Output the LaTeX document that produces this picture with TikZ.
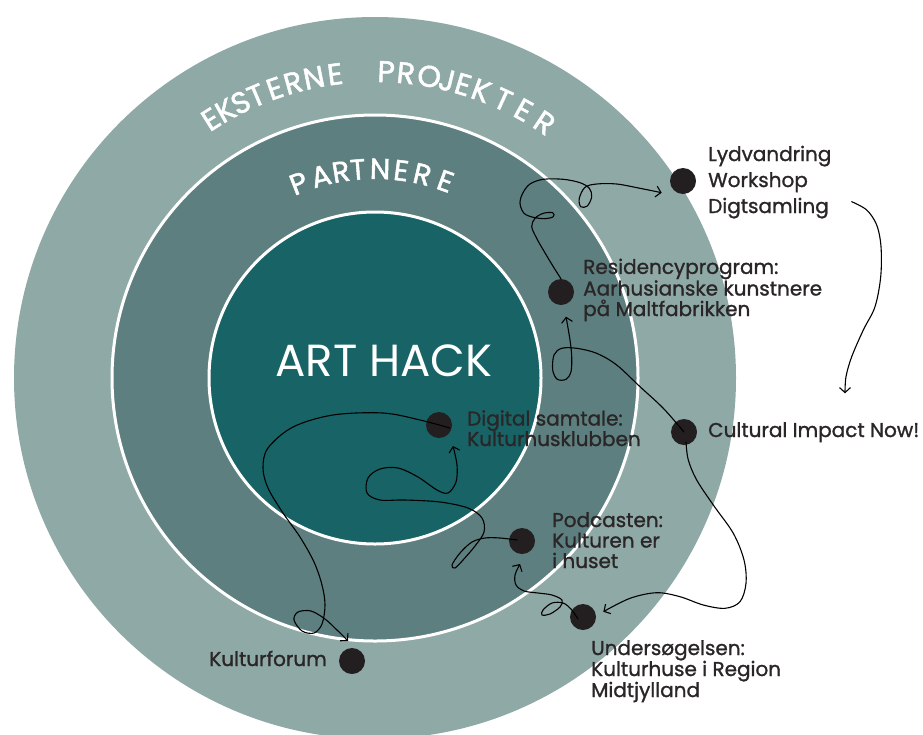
\documentclass[tikz,border=0pt]{standalone}
\usepackage{fontspec}
\setmainfont{Poppins}
\newfontfamily\lblfont{Poppins}[FakeBold=1.2]
\newfontfamily\ttlfont{Poppins}[FakeBold=1.6]
\usetikzlibrary{arrows.meta,calc}
\definecolor{outerc}{HTML}{8FAAA6}
\definecolor{midc}{HTML}{5E7F80}
\definecolor{innerc}{HTML}{176366}
\definecolor{dotc}{HTML}{231F20}
\definecolor{txtc}{HTML}{2A2627}
\tikzset{
  dotnode/.style={circle, fill=dotc, minimum size=26pt, inner sep=0pt},
  lbl/.style={anchor=base west, align=left, text=txtc, font=\lblfont\fontsize{20}{20.5}\selectfont, inner sep=0pt},
  squig/.style={line width=1.1pt, draw=black, line cap=round, line join=round,
    -{Straight Barb[length=5pt,width=11pt,line width=1.1pt]}},
  ringline/.style={draw=white, line width=3pt},
  ttlA/.style={text=white, inner sep=0pt, anchor=base, font=\ttlfont\fontsize{30}{30}\selectfont},
  ttlB/.style={text=white, inner sep=0pt, anchor=base, font=\ttlfont\fontsize{29}{29}\selectfont},
}
\begin{document}
\begin{tikzpicture}[x=1pt,y=-1pt]
\useasboundingbox (0,0) rectangle (923,734);
\clip (0,0) rectangle (923,734);
\coordinate (c) at (375,378);
% rings
\fill[outerc] (c) circle[radius=361pt];
\filldraw[fill=midc, ringline] (c) circle[radius=263pt];
\filldraw[fill=innerc, ringline] (c) circle[radius=166pt];
% curved titles
\foreach \ch/\a [count=\i] in {E/-32.4,K/-29.2,S/-26.0,T/-22.8,E/-19.1,R/-15.5,N/-11.5,E/-7.5,P/2.1,R/5.8,O/10.2,J/13.6,E/16.7,K/20.3,T/24.7,E/29.0,R/33.6}
  \node[ttlA, rotate=-\a] (te\i) at ($(c)+({296*sin(\a)},{-296*cos(\a)})$) {\ch};
\foreach \ch/\a [count=\i] in {P/-21.4,A/-15.0,R/-9.4,T/-4.7,N/1.4,E/7.2,R/13.1,E/19.7}
  \node[ttlB, rotate=-\a] (tp\i) at ($(c)+({199*sin(\a)},{-199*cos(\a)})$) {\ch};
% centre title
\node[text=white, font=\fontsize{45}{45}\selectfont, anchor=base, inner sep=0pt] (art) at (384,376) {ART HACK};
% dots
\node[dotnode] (lyd) at (683,181) {};
\node[dotnode] (res) at (561,292) {};
\node[dotnode] (cult) at (684,432) {};
\node[dotnode] (dig) at (439,425) {};
\node[dotnode] (pod) at (522,541) {};
\node[dotnode] (und) at (583,617) {};
\node[dotnode] (kf) at (352,661) {};
% labels (base = last line)
\node[lbl, font=\lblfont\fontsize{20}{26}\selectfont] (lydt) at (708,213) {Lydvandring\\Workshop\\Digtsamling};
\node[lbl] (rest) at (583,316) {Residencyprogram:\\Aarhusianske kunstnere\\på Maltfabrikken};
\node[lbl] (cultt) at (708,437) {Cultural Impact Now!};
\node[lbl] (digt) at (467,446) {Digital samtale:\\Kulturhusklubben};
\node[lbl] (podt) at (552,568) {Podcasten:\\Kulturen er\\i huset};
\node[lbl, font=\lblfont\fontsize{20}{21}\selectfont] (undt) at (591,697) {Undersøgelsen:\\Kulturhuse i Region\\Midtjylland};
\node[lbl, anchor=base east] (kft) at (327,666) {Kulturforum};
% free ends
\coordinate (a1) at (661.7,192.7);
\coordinate (a2) at (566,316.7);
\coordinate (s3) at (851.7,201.7);
\coordinate (a3) at (845,393.3);
\coordinate (a4) at (603.3,611.7);
\coordinate (a5) at (520,564);
\coordinate (a6) at (453,446);
\coordinate (a7) at (348,641);
% connectors
\draw[squig] plot[smooth, tension=0.55] coordinates {(res.north) (553.3,266.7) (543.3,250) (536.7,238.3) (531.7,226.7) (535,218.3) (543.3,213.3) (552.7,212.7) (553.3,216.7) (545,218.7) (533.3,217.3) (524,213.3) (520,203.3) (522.7,193.3) (530,184) (543.3,179.3) (563.3,179.3) (580,182.7) (589.3,188.3) (591.7,196.7) (587.3,206) (580.7,206.7) (579.3,198.3) (585,187.3) (596.7,184) (616.7,184) (640,188.3) (a1)};
\draw[squig] plot[smooth, tension=0.55] coordinates {(cult.center) (663.3,408.3) (640,386.7) (616.7,365) (596.7,353.3) (576.7,348.3) (561.7,348.3) (554,355) (552.7,370) (557.3,379.3) (566,379.3) (571,371.7) (571.7,356.7) (570,340) (a2)};
\draw[squig] plot[smooth, tension=0.55] coordinates {(s3) (866.7,210) (876.7,225) (881,246.7) (880.7,276.7) (875,306.7) (863.3,330) (851.7,356.7) (846,376.7) (a3)};
\draw[squig] plot[smooth, tension=0.55] coordinates {($(cult.south)+(2,-3)$) (688.3,460) (696.7,480) (713.3,505) (733.3,533.3) (744,560) (746,583.3) (740,601.7) (725,608.3) (703.3,605) (680,596.7) (656.7,592.7) (630,598.3) (a4)};
\draw[squig] plot[smooth, tension=0.55] coordinates {($(und.center)+(-5,2)$) (571,609) (563,603) (552,603) (543,610) (542,615) (550,614) (560,607) (562,600) (552,595) (538,593) (524,591) (516,585) (515,575) (a5)};
\draw[squig] plot[smooth, tension=0.55] coordinates {($(pod.center)+(-5,-1)$) (500,538) (485,538) (472,542) (460,553) (452,565) (455,568) (463,560) (475,546) (484,532) (482,518) (468,508) (440,502) (405,500) (380,500) (367,493) (368,478) (380,469) (398,468) (418,477) (437,490) (448,493) (456,482) (457,465) (a6)};
\draw[squig] plot[smooth, tension=0.55] coordinates {($(dig.center)+(11,3)$) (420,420) (383,413) (333,415) (293,427) (268,448) (263,468) (268,488) (283,513) (300,537) (314,562) (322,585) (325,605) (322,624) (314,633) (302,631) (294,620) (298,612) (311,611) (325,619) (337,630) (a7)};
\end{tikzpicture}
\end{document}
